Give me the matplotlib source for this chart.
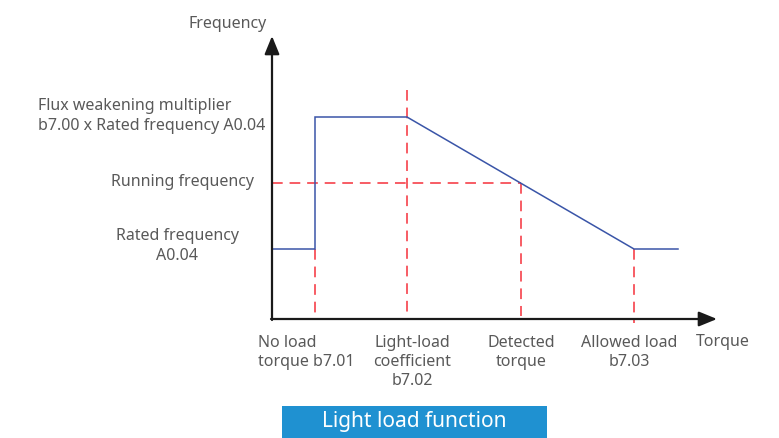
import matplotlib.pyplot as plt
from matplotlib.patches import Rectangle

# --- diagram values (torque / frequency positions, origin at axis corner) ---
torque_marks = [43, 135, 249, 362]        # no load, light-load, detected, allowed
torque_end = 406                           # end of the blue curve
freq_rated = 70
freq_running = 136
freq_flux = 202

curve_x = [0, torque_marks[0], torque_marks[0], torque_marks[1], torque_marks[3], torque_end]
curve_y = [freq_rated, freq_rated, freq_flux, freq_flux, freq_rated, freq_rated]

torque_labels = ["No load\ntorque b7.01", "Light-load\ncoefficient\nb7.02",
                 "Detected\ntorque", "Allowed load\nb7.03"]

W, H = 779, 438
ox, oy = 272, 319                          # origin in pixels

fig = plt.figure(figsize=(W / 100, H / 100), dpi=100)
ax = fig.add_axes([0, 0, 1, 1])
ax.set_xlim(-ox, W - ox)
ax.set_ylim(-(H - oy), oy)
ax.axis("off")

txt = dict(color="#595959", fontsize=11.5, family=["Noto Sans", "DejaVu Sans"])
red = "#f5303a"
blue = "#3a55a8"

# axes with arrows
arrow = dict(arrowstyle="-|>,head_length=1.1,head_width=0.45",
             color="#1a1a1a", lw=1.6, shrinkA=0, shrinkB=0)
ax.annotate("", xy=(0, 283), xytext=(0, -1), arrowprops=arrow)
ax.annotate("", xy=(445, 0), xytext=(-1, 0), arrowprops=arrow)

# red dashed guides
dash = dict(color=red, lw=1.1, ls=(0, (7, 4.5)))
ax.plot([0, torque_marks[2]], [freq_running, freq_running], **dash)
ax.plot([torque_marks[0]] * 2, [freq_rated, 6], **dash)
ax.plot([torque_marks[1]] * 2, [229, 6], **dash)
ax.plot([torque_marks[2]] * 2, [freq_running, 3], **dash)
ax.plot([torque_marks[3]] * 2, [freq_rated, -4], **dash)

# blue frequency curve
ax.plot(curve_x, curve_y, color=blue, lw=1.1, solid_joinstyle="miter")

# y-side labels
ax.text(-5, 295, "Frequency", ha="right", va="center", **txt)
ax.text(-234, 203, "Flux weakening multiplier\nb7.00 x Rated frequency A0.04",
        ha="left", va="center", linespacing=1.3, **txt)
ax.text(-18, 137, "Running frequency", ha="right", va="center", **txt)
ax.text(-95, 73, "Rated frequency\nA0.04", ha="center", va="center",
        linespacing=1.3, **txt)

# x-side labels
ax.text(-14, -16, torque_labels[0], ha="left", va="top", linespacing=1.25, **txt)
for xm, lab in zip(torque_marks[1:], torque_labels[1:]):
    ax.text(xm + (5 if xm == torque_marks[1] else 0) - (5 if xm == torque_marks[3] else 0),
            -16, lab, ha="center", va="top", linespacing=1.25, multialignment="center", **txt)
ax.text(424, -15, "Torque", ha="left", va="top", **txt)

# title box
ax.add_patch(Rectangle((10, -(H - oy)), 265, 32, color="#1f91d1", lw=0))
ax.text(142, -(H - oy) + 16, "Light load function", ha="center", va="center",
        color="white", fontsize=15, family=["Noto Sans", "DejaVu Sans"])

fig.savefig("out.png", dpi=100)
